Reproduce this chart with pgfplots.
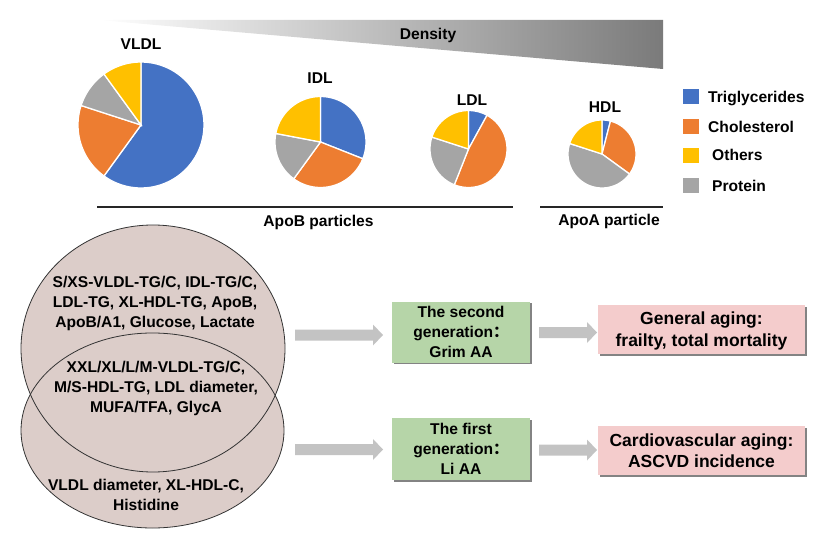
\documentclass[border=0pt]{standalone}
\usepackage{pgfplots}
\pgfplotsset{compat=1.18}
\usepgfplotslibrary{polar}
\usetikzlibrary{shadows}
\usepackage{fontspec}
\setmainfont{Liberation Sans}
\newfontfamily\cjk{Noto Sans CJK SC}
\definecolor{ctg}{HTML}{4472C4}
\definecolor{cch}{HTML}{ED7D31}
\definecolor{cot}{HTML}{FFC000}
\definecolor{cpr}{HTML}{A5A5A5}
\definecolor{venn}{RGB}{220,205,201}
\definecolor{gbox}{RGB}{182,213,168}
\definecolor{pbox}{RGB}{244,204,204}
\definecolor{arr}{RGB}{195,195,195}
\newcommand\tf{\bfseries\fontsize{15.6}{20}\selectfont}
\newcommand\tfb{\bfseries\fontsize{17.5}{21.5}\selectfont}
% one pie slice: colour, cumulative start %, cumulative end % (clockwise from 12 o'clock)
\newcommand\pieslice[3]{%
  \pgfmathsetmacro\aS{90-3.6*(#3)}\pgfmathsetmacro\aE{90-3.6*(#2)}%
  \edef\doslice{\noexpand\addplot[fill=#1,draw=white,line width=1.3pt,domain=\aS:\aE,samples=60,forget plot] {1} -- (axis cs:0,0) -- cycle;}%
  \doslice}
\newcommand\blockarrow[3]{\fill[arr] (#1,{-#3+5.5}) -- ({#2-10},{-#3+5.5}) -- ({#2-10},{-#3+10.5}) -- (#2,-#3) -- ({#2-10},{-#3-10.5}) -- ({#2-10},{-#3-5.5}) -- (#1,{-#3-5.5}) -- cycle;}
\pgfplotsset{pie/.style={scale only axis, hide axis, ymin=0, ymax=1, anchor=center, clip=false}}
\begin{document}
\begin{tikzpicture}[x=1pt,y=1pt,
  lbl/.style={font=\tf, inner sep=0pt, text height=11.2pt, text depth=0pt},
  shd/.style={drop shadow={shadow xshift=1.6pt, shadow yshift=-1.8pt, fill=black!65, opacity=0.75}}]
\path[use as bounding box] (0,0) rectangle (821,-545);
% density wedge
\shade[left color=white, right color=black!52] (98,-20) -- (663,-20) -- (663,-69) -- cycle;
\node[lbl] at (428,-34) {Density};
% pies: Triglycerides, Cholesterol, Protein, Others (percent, clockwise)
\begin{polaraxis}[pie, at={(141pt,-125pt)}, width=126pt, height=126pt]
\pieslice{ctg}{0}{60}\pieslice{cch}{60}{80}\pieslice{cpr}{80}{90}\pieslice{cot}{90}{100}
\end{polaraxis}
\begin{polaraxis}[pie, at={(320.5pt,-142pt)}, width=91pt, height=91pt]
\pieslice{ctg}{0}{31}\pieslice{cch}{31}{60}\pieslice{cpr}{60}{78}\pieslice{cot}{78}{100}
\end{polaraxis}
\begin{polaraxis}[pie, at={(468.5pt,-149pt)}, width=77pt, height=77pt]
\pieslice{ctg}{0}{8}\pieslice{cch}{8}{56}\pieslice{cpr}{56}{80}\pieslice{cot}{80}{100}
\end{polaraxis}
\begin{polaraxis}[pie, at={(602pt,-154pt)}, width=68pt, height=68pt]
\pieslice{ctg}{0}{4}\pieslice{cch}{4}{35}\pieslice{cpr}{35}{80}\pieslice{cot}{80}{100}
\end{polaraxis}
\node[lbl] at (141,-44) {VLDL};
\node[lbl] at (320,-78) {IDL};
\node[lbl] at (472,-100) {LDL};
\node[lbl] at (605,-107) {HDL};
% legend
\fill[ctg] (683,-89) rectangle (699,-104);
\fill[cch] (683,-119.5) rectangle (699,-134.5);
\fill[cot] (683,-148) rectangle (699,-163);
\fill[cpr] (683,-178.5) rectangle (699,-193.5);
\node[lbl, anchor=west] at (708,-96.7) {Triglycerides};
\node[lbl, anchor=west] at (708,-126.7) {Cholesterol};
\node[lbl, anchor=west] at (712,-155) {Others};
\node[lbl, anchor=west] at (712,-186) {Protein};
% particle lines
\draw[line width=2pt, black!85] (97,-207) -- (513,-207);
\draw[line width=2pt, black!85] (540,-207) -- (663,-207);
\node[lbl] at (318.5,-221) {ApoB particles};
\node[lbl] at (609,-220) {ApoA particle};
% Venn
\fill[venn] (153,-348.5) ellipse [x radius=132pt, y radius=123.5pt];
\fill[venn] (152.5,-430.5) ellipse [x radius=131.5pt, y radius=97.5pt];
\draw[line width=0.8pt, black!80] (153,-348.5) ellipse [x radius=132pt, y radius=123.5pt];
\draw[line width=0.8pt, black!80] (152.5,-430.5) ellipse [x radius=131.5pt, y radius=97.5pt];
\node[font=\tf, align=center, inner sep=0pt] at (155,-303) {S/XS-VLDL-TG/C, IDL-TG/C,\\LDL-TG, XL-HDL-TG, ApoB,\\ApoB/A1, Glucose, Lactate};
\node[font=\tf, align=center, inner sep=0pt] at (156,-388.5) {XXL/XL/L/M-VLDL-TG/C,\\M/S-HDL-TG, LDL diameter,\\MUFA/TFA, GlycA};
\node[font=\tf, align=center, inner sep=0pt] at (146,-494.5) {VLDL diameter, XL-HDL-C,\\Histidine};
% arrows
\blockarrow{295}{383}{335}
\blockarrow{539}{597}{332.5}
\blockarrow{295}{383}{449.5}
\blockarrow{539}{597}{450}
% boxes
\node[fill=gbox, shd, minimum width=138pt, minimum height=61pt, inner sep=0pt] at (461,-332) {};
\node[fill=gbox, shd, minimum width=138pt, minimum height=62pt, inner sep=0pt] at (461,-449) {};
\node[fill=pbox, shd, minimum width=207pt, minimum height=49pt, inner sep=0pt] at (701.5,-329.5) {};
\node[fill=pbox, shd, minimum width=207pt, minimum height=49pt, inner sep=0pt] at (701.5,-450.5) {};
\node[font=\tf, align=center, inner sep=0pt] at (461,-332) {The second\\generation{\cjk ：}\\Grim AA};
\node[font=\tf, align=center, inner sep=0pt] at (461,-449) {The first\\generation{\cjk ：}\\Li AA};
\node[font=\tfb, align=center, inner sep=0pt] at (701.5,-331) {General aging:\\frailty, total mortality};
\node[font=\tfb, align=center, inner sep=0pt] at (701.5,-450.5) {Cardiovascular aging:\\ASCVD incidence};
\end{tikzpicture}
\end{document}
